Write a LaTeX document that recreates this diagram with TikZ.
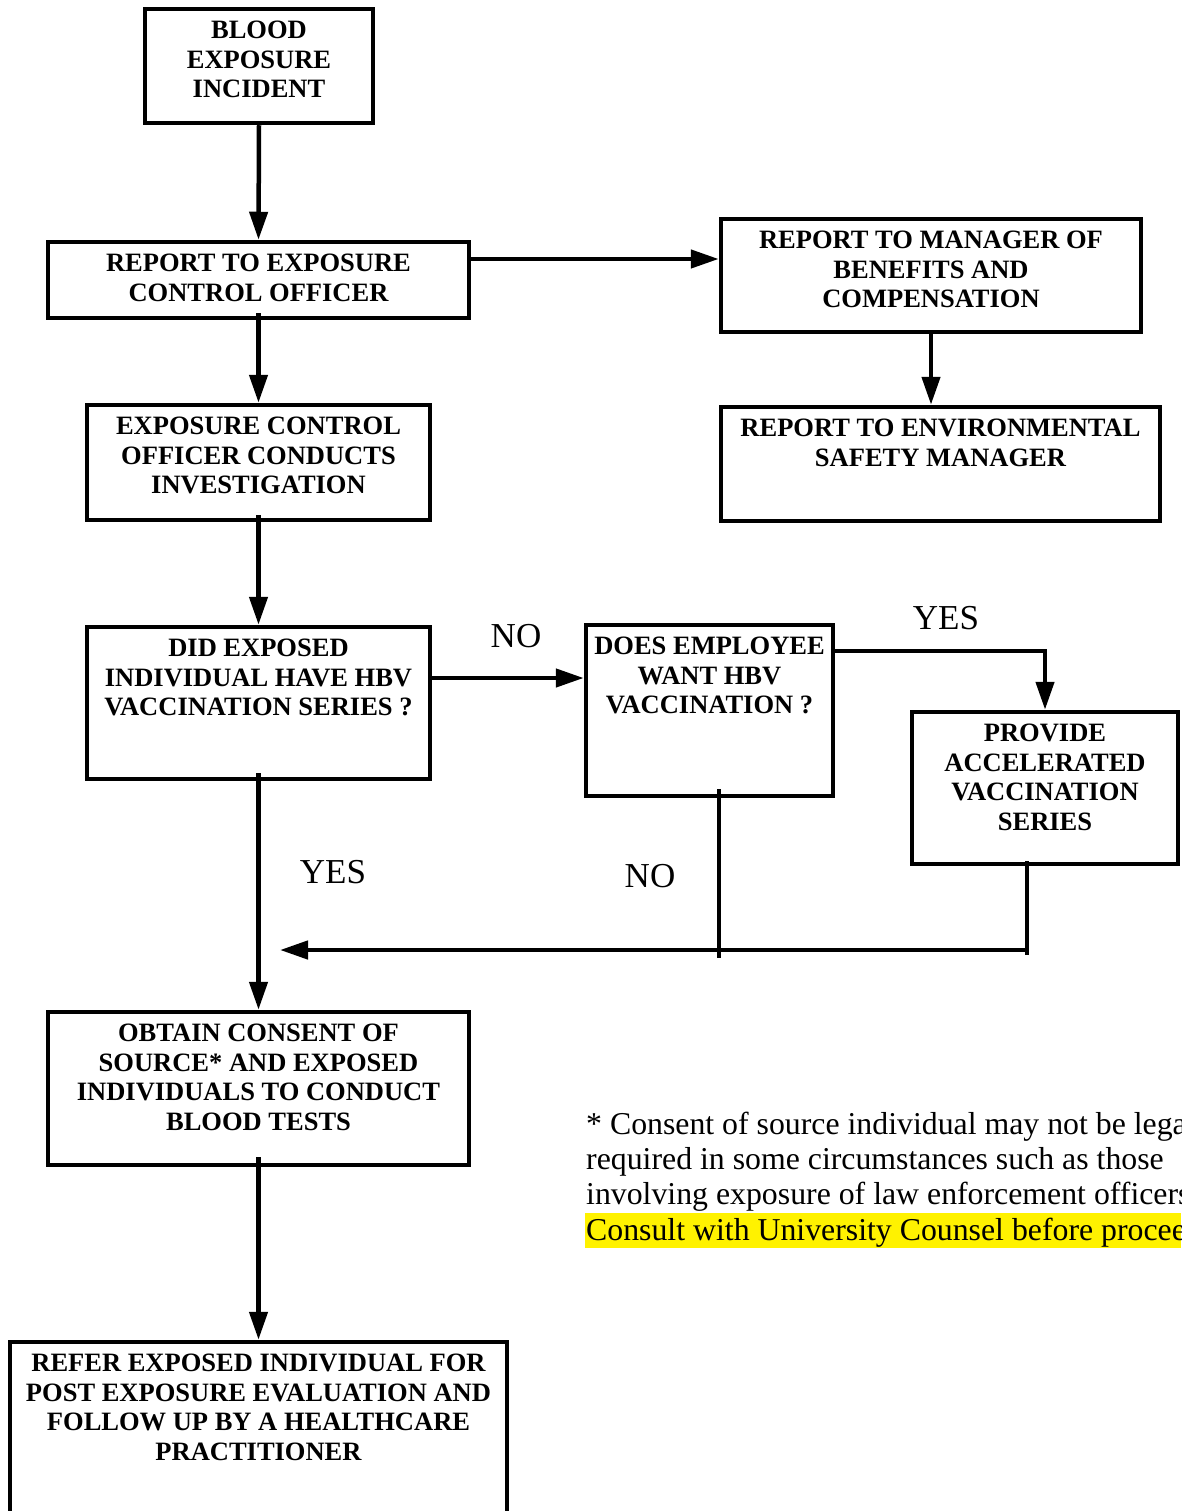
\documentclass[tikz,border=0pt]{standalone}
\usepackage{fontspec}
\setmainfont{Liberation Serif}
\usetikzlibrary{arrows.meta}
\newcommand\boxfont{\fontsize{26.5}{29.6}\selectfont\bfseries}
\newcommand\lblfont{\fontsize{35}{40}\selectfont}
\newcommand\notefont{\fontsize{31.8}{35.3}\selectfont}
\tikzset{
  flowbox/.style={draw, line width=4.5pt, rectangle, inner sep=0pt},
  boxtext/.style={anchor=north, inner sep=0pt, align=center, font=\boxfont},
  conn/.style={line width=4.5pt},
  arr/.style={line width=4.5pt, -{Triangle[length=28pt,width=18pt]}},
  lbl/.style={inner sep=0pt, font=\lblfont},
  note/.style={anchor=base west, inner sep=0pt, font=\notefont}
}
\begin{document}
\begin{tikzpicture}[x=1pt,y=-1pt]
\useasboundingbox (0,0) rectangle (1181,1511);
\clip (0,0) rectangle (1181,1511);
\fill[white] (0,0) rectangle (1181,1511);

% boxes
\node[flowbox, minimum width=228pt, minimum height=114pt] (b1) at (259,66) {};
\node[flowbox, minimum width=421pt, minimum height=76pt] (b2) at (258.5,280) {};
\node[flowbox, minimum width=420pt, minimum height=113pt] (b3) at (931,275.5) {};
\node[flowbox, minimum width=439pt, minimum height=114pt] (b4) at (940.5,464) {};
\node[flowbox, minimum width=343pt, minimum height=115pt] (b5) at (258.5,462.5) {};
\node[flowbox, minimum width=343pt, minimum height=152pt] (b6) at (258.5,703) {};
\node[flowbox, minimum width=247pt, minimum height=171pt] (b7) at (709.5,710.5) {};
\node[flowbox, minimum width=266pt, minimum height=152pt] (b8) at (1045,788) {};
\node[flowbox, minimum width=421pt, minimum height=153pt] (b9) at (258.5,1088.5) {};
\node[flowbox, minimum width=497pt, minimum height=190pt] (b10) at (258.5,1437) {};

% box texts
\node[boxtext] (t1) at ([yshift=-14pt]b1.north) {BLOOD\\EXPOSURE\\INCIDENT};
\node[boxtext] (t2) at ([yshift=-14pt]b2.north) {REPORT TO EXPOSURE\\CONTROL OFFICER};
\node[boxtext] (t3) at ([yshift=-14pt]b3.north) {REPORT TO MANAGER OF\\BENEFITS AND\\COMPENSATION};
\node[boxtext] (t4) at ([yshift=-14pt]b4.north) {REPORT TO ENVIRONMENTAL\\SAFETY MANAGER};
\node[boxtext] (t5) at ([yshift=-14pt]b5.north) {EXPOSURE CONTROL\\OFFICER CONDUCTS\\INVESTIGATION};
\node[boxtext] (t6) at ([yshift=-14pt]b6.north) {DID EXPOSED\\INDIVIDUAL HAVE HBV\\VACCINATION SERIES ?};
\node[boxtext] (t7) at ([yshift=-14pt]b7.north) {DOES EMPLOYEE\\WANT HBV\\VACCINATION ?};
\node[boxtext] (t8) at ([yshift=-14pt]b8.north) {PROVIDE\\ACCELERATED\\VACCINATION\\SERIES};
\node[boxtext] (t9) at ([yshift=-14pt]b9.north) {OBTAIN CONSENT OF\\SOURCE* AND EXPOSED\\INDIVIDUALS TO CONDUCT\\BLOOD TESTS};
\node[boxtext] (t10) at ([yshift=-14pt]b10.north) {REFER EXPOSED INDIVIDUAL FOR\\POST EXPOSURE EVALUATION AND\\FOLLOW UP BY A HEALTHCARE\\PRACTITIONER};

% connectors
\draw[arr] (b1.south) -- (b2.north);
\draw[arr] (b2.east |- 0,259) -- (b3.west |- 0,259);
\draw[arr] ([yshift=7pt]b2.south) -- (b5.north);
\draw[arr] (b3.south) -- (b3.south |- b4.north);
\draw[arr] ([yshift=7pt]b5.south) -- (b6.north);
\draw[arr] (b6.east |- 0,678) -- (b7.west |- 0,678);
\draw[arr] (b7.east |- 0,651) -- (b8.north |- 0,651) -- (b8.north);
\draw[arr] ([yshift=8pt]b6.south) -- (b9.north);
\draw[arr] ([yshift=10pt]b9.south) -- (b10.north);

\coordinate (j1) at (719,958);
\coordinate (j2) at (1027,950);
\coordinate (j3) at (1027,955);
\coordinate (tip) at (280,950);
\draw[conn] (b7.south -| j1) ++(0,-9) -- (j1);
\draw[conn] (b8.south -| j3) ++(0,-5) -- (j3);
\draw[arr] (j2) -- (tip);

% labels
\node[lbl] (no1) at (516,636) {NO};
\node[lbl] (yes1) at (946,618) {YES};
\node[lbl] (yes2) at (333,872) {YES};
\node[lbl] (no2) at (650,876) {NO};

% footnote
\fill[yellow] (585,1213) rectangle (1181,1248);
\node[note] (n1) at (586,1134) {* Consent of source individual may not be legally};
\node[note] (n2) at (586,1169) {required in some circumstances such as those};
\node[note] (n3) at (586,1204) {involving exposure of law enforcement officers.};
\node[note] (n4) at (586,1240) {Consult with University Counsel before proceeding.};
\end{tikzpicture}
\end{document}
